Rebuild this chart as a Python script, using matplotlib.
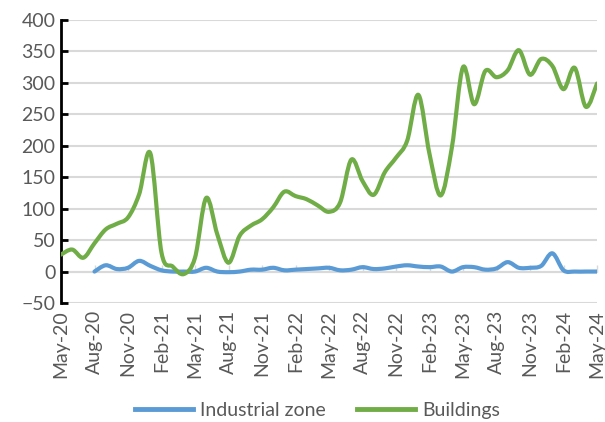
import numpy as np
import pandas as pd
import matplotlib
matplotlib.use("Agg")
import matplotlib.pyplot as plt
from matplotlib.path import Path
from matplotlib.patches import PathPatch
from matplotlib.lines import Line2D


# Monthly series, May-20 .. May-24
months = pd.date_range("2020-05-01", periods=49, freq="MS")

buildings = [27, 35, 22, 45, 67, 76, 86, 123, 188, 30,
             8, -4, 22, 117, 59, 14, 57, 73, 83, 102,
             127, 120, 115, 105, 95, 110, 178, 144, 122, 158,
             181, 208, 281, 187, 121, 197, 325, 266, 319, 309,
             320, 352, 313, 338, 327, 290, 324, 262, 299]

# industrial zone series starts in Aug-20
industrial = [None, None, None, 0, 10, 4, 6, 17, 9, 2,
              0, 0, 0, 6, 0, -1, 0, 3, 3, 6,
              2, 3, 4, 5, 6, 2, 3, 7, 4, 5,
              8, 10, 8, 7, 8, 0, 7, 7, 3, 5,
              15, 6, 6, 9, 29, 2, 0, 0, 0]

series_names = ["Industrial zone", "Buildings"]
series_colors = ["#5B9BD5", "#70AD47"]
tick_labels = [m.strftime("%b-%y") for m in months[::3]]


def smooth_path(xs, ys):
    """Excel-like smoothed line as cubic Bezier segments (Catmull-Rom)."""
    pts = [(x, y) for x, y in zip(xs, ys) if y is not None]
    verts = [pts[0]]
    codes = [Path.MOVETO]
    n = len(pts)
    for i in range(n - 1):
        p0 = pts[i - 1] if i > 0 else pts[i]
        p1 = pts[i]
        p2 = pts[i + 1]
        p3 = pts[i + 2] if i + 2 < n else pts[i + 1]
        c1 = (p1[0] + (p2[0] - p0[0]) / 6, p1[1] + (p2[1] - p0[1]) / 6)
        c2 = (p2[0] - (p3[0] - p1[0]) / 6, p2[1] - (p3[1] - p1[1]) / 6)
        verts += [c1, c2, p2]
        codes += [Path.CURVE4] * 3
    return Path(verts, codes)


plt.rcParams["font.family"] = ["Lato", "DejaVu Sans"]

fig = plt.figure(figsize=(6.05, 4.22), dpi=100)
ax = fig.add_axes([61 / 605, 1 - 303 / 422, 536 / 605, 283 / 422])

x = np.arange(len(months))
for vals, col in zip([industrial, buildings], series_colors):
    ax.add_patch(PathPatch(smooth_path(x, vals), fill=False, edgecolor=col,
                           lw=3, capstyle="round", joinstyle="round", zorder=3))

ax.set_xlim(0, len(months) - 1)
ax.set_ylim(-50, 400)
ax.set_yticks(np.arange(-50, 401, 50))
ax.grid(axis="y", color="#d9d9d9", lw=1.5)
ax.set_axisbelow(True)

ax.set_xticks(x[::3])
ax.set_xticklabels(tick_labels, rotation=90)
ax.tick_params(axis="x", length=0, pad=5, labelsize=14, labelcolor="#595959")
ax.tick_params(axis="y", direction="in", length=5, width=2, color="black",
               labelsize=14, labelcolor="#595959", pad=4)

for s in ["top", "right", "bottom"]:
    ax.spines[s].set_visible(False)
ax.spines["left"].set_linewidth(2)
ax.spines["left"].set_color("black")

# horizontal axis line at zero with small inward ticks
sec = ax.secondary_xaxis(50 / 450)
sec.set_xticks(x[::3])
sec.tick_params(direction="in", length=5, width=1, color="#d9d9d9",
                labelbottom=False)
sec.spines["bottom"].set_color("#d9d9d9")
sec.spines["bottom"].set_linewidth(1.5)

handles = [Line2D([], [], color=c, lw=3.5) for c in series_colors]
fig.legend(handles, series_names, loc="center", bbox_to_anchor=(0.525, 0.028),
           ncol=2, frameon=False, fontsize=14, handlelength=3.0,
           handletextpad=0.35, columnspacing=1.6, labelcolor="#595959")

fig.savefig("out.png", dpi=100)
